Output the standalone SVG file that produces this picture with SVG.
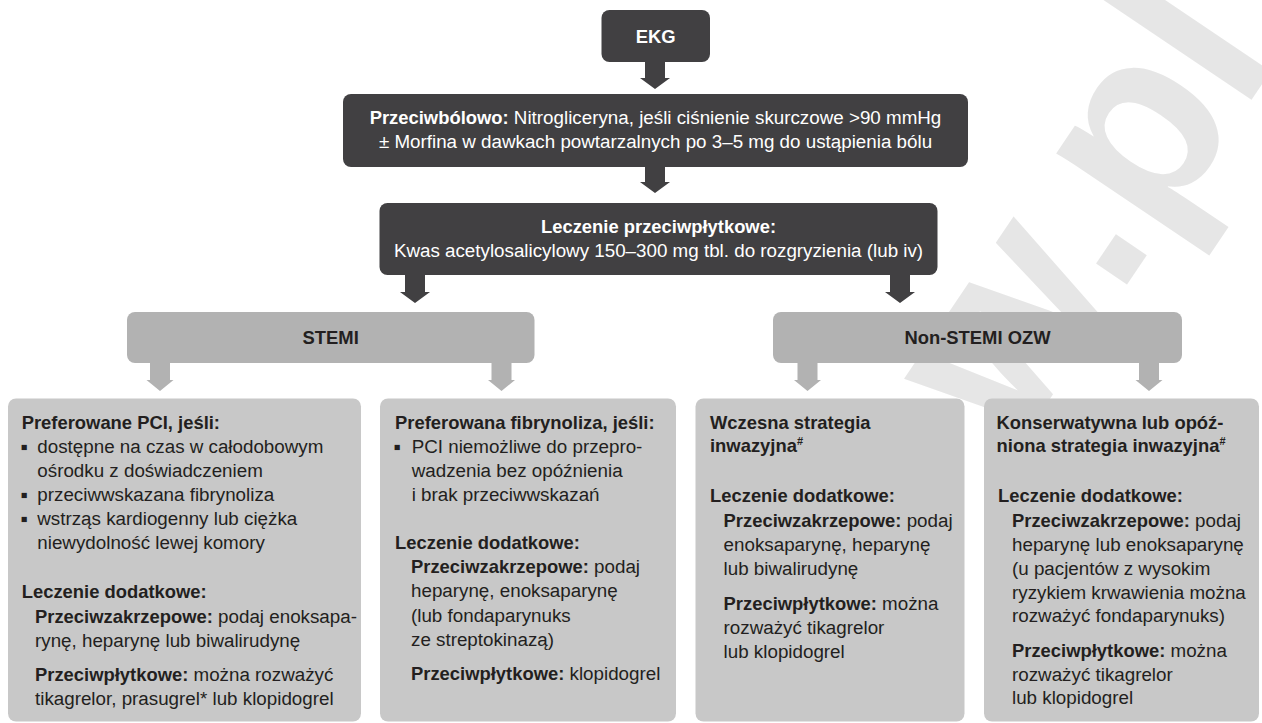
<svg xmlns="http://www.w3.org/2000/svg" width="1262" height="723" viewBox="0 0 1262 723">
<style>
.t{font-family:"Liberation Sans",Arial,sans-serif;font-size:18.8px;fill:#231f20}
.b{font-weight:bold;font-size:18.4px}
.w{fill:#ffffff}
.c{text-anchor:middle}
.bu{font-size:21px}
.sup{font-size:11px;font-weight:bold}
.dark{fill:#414042}
.mid{fill:#b2b2b2}
.light{fill:#c8c8c8}
.wm{font-family:"Liberation Sans",Arial,sans-serif;font-weight:bold;font-size:250px;fill:#e6e6e6}
</style>
<rect width="1262" height="723" fill="#ffffff"/>
<g id="watermark">
<text class="wm" transform="translate(1014,452) rotate(-56)" x="0" y="0">w.pl</text>
</g>
<g id="connectors">
<path class="dark" d="M645,61 H665 V78 H670 L655,89 L640,78 H645 Z"/>
<path class="dark" d="M645,166 H665 V182 H670 L655,193 L640,182 H645 Z"/>
<path class="dark" d="M405,274 H425 V292 H430 L415,303 L400,292 H405 Z"/>
<path class="dark" d="M890,274 H910 V292 H915 L900,303 L885,292 H890 Z"/>
<path class="mid" d="M150,362 H170 V380 H173.5 L160,391 L146.5,380 H150 Z"/>
<path class="mid" d="M491.5,362 H511.5 V380 H515 L501.5,391 L488,380 H491.5 Z"/>
<path class="mid" d="M797.5,362 H817.5 V380 H821 L807.5,391 L794,380 H797.5 Z"/>
<path class="mid" d="M1139,362 H1159 V380 H1162.5 L1149,391 L1135.5,380 H1139 Z"/>
</g>
<g id="ekg">
<rect class="dark" x="601.5" y="10" width="108.5" height="52" rx="8"/>
<text class="t b w c" x="655.7" y="42.5">EKG</text>
</g>
<g id="przeciwbolowo">
<rect class="dark" x="343" y="94" width="625" height="73" rx="8"/>
<text class="t w c" x="655.5" y="124"><tspan class="b">Przeciwbólowo:</tspan> Nitrogliceryna, jeśli ciśnienie skurczowe &gt;90 mmHg</text>
<text class="t w c" x="655.5" y="148">± Morfina w dawkach powtarzalnych po 3–5 mg do ustąpienia bólu</text>
</g>
<g id="przeciwplytkowe">
<rect class="dark" x="379.5" y="203" width="558" height="72" rx="8"/>
<text class="t b w c" x="658.5" y="233">Leczenie przeciwpłytkowe:</text>
<text class="t w c" x="658.5" y="257">Kwas acetylosalicylowy 150–300 mg tbl. do rozgryzienia (lub iv)</text>
</g>
<g id="stemi">
<rect class="mid" x="127" y="312" width="407.5" height="51" rx="8"/>
<text class="t b c" x="330.7" y="344">STEMI</text>
</g>
<g id="nonstemi">
<rect class="mid" x="773" y="312" width="409" height="51" rx="8"/>
<text class="t b c" x="977.5" y="344">Non-STEMI OZW</text>
</g>
<g id="pci">
<rect class="light" x="8" y="398.5" width="353" height="323" rx="8"/>
<text class="t b" x="21.7" y="429">Preferowane PCI, jeśli:</text>
<text class="t bu" x="20.5" y="454">▪</text>
<text class="t" x="37.3" y="453">dostępne na czas w całodobowym</text>
<text class="t" x="37.3" y="477">ośrodku z doświadczeniem</text>
<text class="t bu" x="20.5" y="502">▪</text>
<text class="t" x="37.3" y="501">przeciwwskazana fibrynoliza</text>
<text class="t bu" x="20.5" y="526">▪</text>
<text class="t" x="37.3" y="525">wstrząs kardiogenny lub ciężka</text>
<text class="t" x="37.3" y="549">niewydolność lewej komory</text>
<text class="t b" x="21.7" y="598">Leczenie dodatkowe:</text>
<text class="t" x="35" y="623"><tspan class="b">Przeciwzakrzepowe:</tspan> podaj enoksapa-</text>
<text class="t" x="35" y="647">rynę, heparynę lub biwalirudynę</text>
<text class="t" x="35" y="681"><tspan class="b">Przeciwpłytkowe:</tspan> można rozważyć</text>
<text class="t" x="35" y="705">tikagrelor, prasugrel* lub klopidogrel</text>
</g>
<g id="fibrynoliza">
<rect class="light" x="380" y="398.5" width="296" height="323" rx="8"/>
<text class="t b" x="395" y="428.5">Preferowana fibrynoliza, jeśli:</text>
<text class="t bu" x="393.5" y="454">▪</text>
<text class="t" x="411.7" y="453">PCI niemożliwe do przepro-</text>
<text class="t" x="411.7" y="477">wadzenia bez opóźnienia</text>
<text class="t" x="411.7" y="501">i brak przeciwwskazań</text>
<text class="t b" x="395" y="548.5">Leczenie dodatkowe:</text>
<text class="t" x="411" y="573"><tspan class="b">Przeciwzakrzepowe:</tspan> podaj</text>
<text class="t" x="411" y="597">heparynę, enoksaparynę</text>
<text class="t" x="411" y="621.5">(lub fondaparynuks</text>
<text class="t" x="411" y="645.5">ze streptokinazą)</text>
<text class="t" x="411" y="680"><tspan class="b">Przeciwpłytkowe:</tspan> klopidogrel</text>
</g>
<g id="wczesna">
<rect class="light" x="695.5" y="398.5" width="269" height="323" rx="8"/>
<text class="t b" x="710" y="428.5">Wczesna strategia</text>
<text class="t b" x="710" y="452">inwazyjna<tspan class="sup" dy="-7">#</tspan></text>
<text class="t b" x="710" y="502">Leczenie dodatkowe:</text>
<text class="t" x="723.6" y="527"><tspan class="b">Przeciwzakrzepowe:</tspan> podaj</text>
<text class="t" x="723.6" y="550.5">enoksaparynę, heparynę</text>
<text class="t" x="723.6" y="574.5">lub biwalirudynę</text>
<text class="t" x="723.6" y="610"><tspan class="b">Przeciwpłytkowe:</tspan> można</text>
<text class="t" x="723.6" y="633.5">rozważyć tikagrelor</text>
<text class="t" x="723.6" y="658">lub klopidogrel</text>
</g>
<g id="konserwatywna">
<rect class="light" x="984" y="398.5" width="275" height="323" rx="8"/>
<text class="t b" x="996.6" y="428.5">Konserwatywna lub opóź-</text>
<text class="t b" x="996.6" y="452">niona strategia inwazyjna<tspan class="sup" dy="-7">#</tspan></text>
<text class="t b" x="998" y="502">Leczenie dodatkowe:</text>
<text class="t" x="1012" y="527"><tspan class="b">Przeciwzakrzepowe:</tspan> podaj</text>
<text class="t" x="1012" y="550.5">heparynę lub enoksaparynę</text>
<text class="t" x="1012" y="574.5">(u pacjentów z wysokim</text>
<text class="t" x="1012" y="598.5">ryzykiem krwawienia można</text>
<text class="t" x="1012" y="622">rozważyć fondaparynuks)</text>
<text class="t" x="1012" y="657"><tspan class="b">Przeciwpłytkowe:</tspan> można</text>
<text class="t" x="1012" y="680.5">rozważyć tikagrelor</text>
<text class="t" x="1012" y="704">lub klopidogrel</text>
</g>
</svg>
